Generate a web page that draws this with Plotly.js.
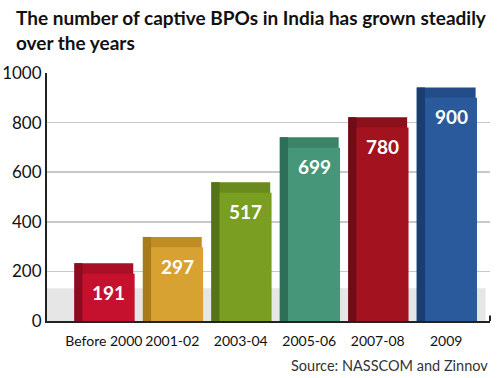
<!DOCTYPE html>
<html>
<head>
<meta charset="utf-8">
<script src="https://cdn.plot.ly/plotly-3.0.1.min.js"></script>
<style>html,body{margin:0;padding:0;background:#fff;}#chart{width:500px;height:378px;}</style>
</head>
<body>
<div id="chart"></div>
<script>
var categories = ["Before 2000", "2001-02", "2003-04", "2005-06", "2007-08", "2009"];
var values = [191, 297, 517, 699, 780, 900];
var frontColors = ["#c5112d", "#d7a232", "#799e21", "#46977a", "#a2131f", "#2a5a9b"];
var sideColors  = ["#8c0b1e", "#a87a1b", "#557419", "#2e6f57", "#700c15", "#1a3e70"];
var topColors   = ["#a90f26", "#c08c24", "#698b1d", "#3a8467", "#8a101b", "#234d88"];
var yTicks = [0, 200, 400, 600, 800, 1000];

var topDepth = 42; // visual depth of the 3D top face, in axis units
var backY = values.map(function(v){ return v + topDepth; });

var traces = [
  {type:"bar", x:categories, y:backY, width:0.86, offset:-0.43,
   marker:{color:topColors, line:{width:0}}, hoverinfo:"skip"},
  {type:"bar", x:categories, y:backY, width:0.12, offset:-0.43,
   marker:{color:sideColors, line:{width:0}}, hoverinfo:"skip"},
  {type:"bar", x:categories, y:values, width:0.76, offset:-0.31,
   marker:{color:frontColors, line:{width:0}}, hoverinfo:"y"}
];

var FONT = "Lato, 'Open Sans', sans-serif";
var annotations = values.map(function(v, i){
  return {x:i, y:v, xref:"x", yref:"y", text:"<b>" + v + "</b>", showarrow:false,
    xshift:5, yshift:-19, font:{family:FONT, size:19, color:"#ffffff"}};
});
annotations.push({xref:"paper", yref:"paper", x:1, xanchor:"right", y:-0.18, yanchor:"middle",
  text:"Source: NASSCOM and Zinnov", showarrow:false,
  font:{family:FONT, size:14.5, color:"#333333"}});
annotations.push({xref:"paper", yref:"paper", x:-0.075, xanchor:"left", y:1.28, yanchor:"top",
  align:"left", showarrow:false,
  text:"<b>The number of captive BPOs in India has grown steadily<br>over the years</b>",
  font:{family:FONT, size:19, color:"#111111"}});

var layout = {
  width:500, height:378,
  margin:{l:47, r:10, t:73, b:57},
  paper_bgcolor:"#ffffff", plot_bgcolor:"#ffffff",
  barmode:"overlay",
  showlegend:false,
  xaxis:{type:"category", range:[-0.83, 5.64], showgrid:false, zeroline:false,
    showline:true, linecolor:"#222222", linewidth:2, ticks:"", tickangle:0, automargin:false,
    ticklabelstandoff:6,
    tickfont:{family:FONT, size:14, color:"#111111"}},
  yaxis:{range:[0, 1000], tickvals:yTicks, ticktext:yTicks.map(String), automargin:false,
    showgrid:true, gridcolor:"#c8c8c8", gridwidth:1.5, zeroline:false,
    showline:true, linecolor:"#222222", linewidth:2, ticks:"",
    tickfont:{family:FONT, size:17, color:"#111111"}},
  shapes:[
    {type:"rect", xref:"paper", yref:"y", x0:0, x1:0.99, y0:0, y1:132,
     fillcolor:"#e6e6e6", line:{width:0}, layer:"below"},
    {type:"line", xref:"paper", yref:"y", x0:1, x1:1, y0:0, y1:22,
     line:{color:"#222222", width:2}}
  ],
  annotations:annotations
};

Plotly.newPlot("chart", traces, layout, {displayModeBar:false, staticPlot:true});
</script>
</body>
</html>
